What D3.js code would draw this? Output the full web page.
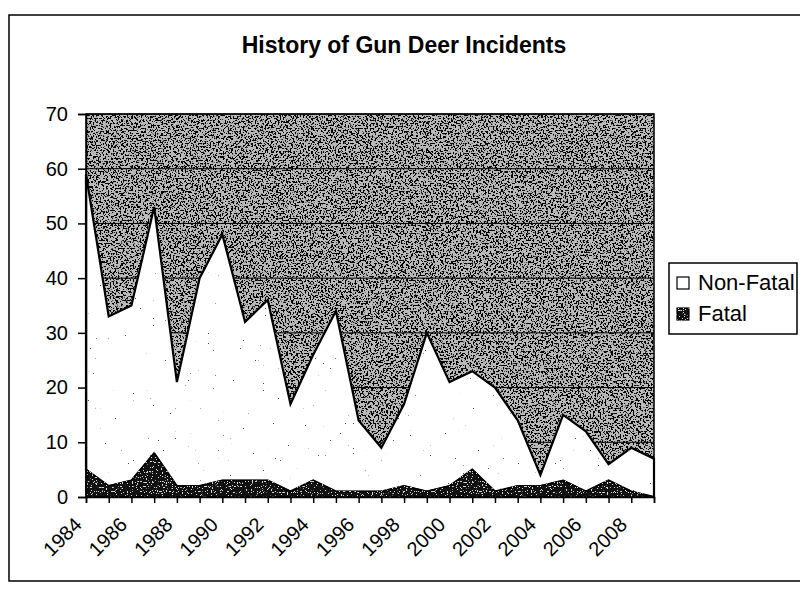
<!DOCTYPE html>
<html>
<head>
<meta charset="utf-8">
<script src="https://cdn.jsdelivr.net/npm/d3@7/dist/d3.min.js"></script>
<style>
  html, body { margin: 0; padding: 0; background: #fff; }
  svg { display: block; font-family: "Liberation Sans", Arial, sans-serif; }
</style>
</head>
<body>
<svg id="chart" width="800" height="592"></svg>
<script>
// Gun deer hunting incidents per season
const years = [1984, 1985, 1986, 1987, 1988, 1989, 1990, 1991, 1992, 1993, 1994, 1995, 1996,
               1997, 1998, 1999, 2000, 2001, 2002, 2003, 2004, 2005, 2006, 2007, 2008, 2009];
const fatal = [5, 2, 3, 8, 2, 2, 3, 3, 3, 1, 3, 1, 1,
               1, 2, 1, 2, 5, 1, 2, 2, 3, 1, 3, 1, 0];
const nonFatal = [54, 31, 32, 45, 19, 38, 45, 29, 33, 16, 23, 33, 13,
                  8, 15, 29, 19, 18, 19, 12, 2, 12, 11, 3, 8, 7];
const yearLabels = [1984, 1986, 1988, 1990, 1992, 1994, 1996, 1998, 2000, 2002, 2004, 2006, 2008];
const yTicks = [0, 10, 20, 30, 40, 50, 60, 70];
const seriesNames = ["Non-Fatal", "Fatal"];

const svg = d3.select("#chart");
const defs = svg.append("defs");

// Grainy fills: thresholded noise dots laid over a shape
function speckle(id, rgb, t, freq, seed) {
  const f = defs.append("filter").attr("id", id)
    .attr("color-interpolation-filters", "sRGB")
    .attr("x", "-5%").attr("y", "-5%").attr("width", "110%").attr("height", "110%");
  f.append("feTurbulence").attr("type", "fractalNoise").attr("baseFrequency", freq)
    .attr("numOctaves", 1).attr("seed", seed).attr("result", "noise");
  const k = 30;
  f.append("feColorMatrix").attr("in", "noise").attr("type", "matrix")
    .attr("values", `0 0 0 0 ${rgb[0]} 0 0 0 0 ${rgb[1]} 0 0 0 0 ${rgb[2]} ${k} 0 0 0 ${-k * t}`)
    .attr("result", "dots");
  f.append("feComposite").attr("in", "dots").attr("in2", "SourceAlpha")
    .attr("operator", "in").attr("result", "clipped");
  const m = f.append("feMerge");
  m.append("feMergeNode").attr("in", "SourceGraphic");
  m.append("feMergeNode").attr("in", "clipped");
}
speckle("bgGrain", [0, 0, 0], 0.53, 0.6, 7);
speckle("whiteGrain", [0.3, 0.3, 0.3], 0.76, 0.6, 11);
speckle("darkGrain", [0.85, 0.85, 0.85], 0.62, 0.8, 5);

const plot = { left: 86, right: 654, top: 114, bottom: 497 };

const x = d3.scalePoint().domain(years).range([plot.left, plot.right]);
const y = d3.scaleLinear().domain([0, 70]).range([plot.bottom, plot.top]);

// Chart frame
svg.append("rect")
  .attr("x", 9).attr("y", 15).attr("width", 820).attr("height", 566)
  .attr("fill", "none").attr("stroke", "#000").attr("stroke-width", 1.5);

// Title
svg.append("text")
  .attr("x", 404).attr("y", 53)
  .attr("text-anchor", "middle")
  .attr("font-size", 23).attr("font-weight", "bold")
  .text("History of Gun Deer Incidents");

// Plot background
svg.append("rect")
  .attr("x", plot.left).attr("y", plot.top)
  .attr("width", plot.right - plot.left).attr("height", plot.bottom - plot.top)
  .attr("fill", "#bababa").attr("filter", "url(#bgGrain)");

// Gridlines
svg.append("g").selectAll("line")
  .data(yTicks.filter(v => v > 0))
  .join("line")
  .attr("x1", plot.left).attr("x2", plot.right)
  .attr("y1", d => y(d)).attr("y2", d => y(d))
  .attr("stroke", "#000").attr("stroke-width", 1);

// Stacked areas: fatal on the bottom, non-fatal on top
const rows = years.map((yr, i) => ({ year: yr, fatal: fatal[i], nonFatal: nonFatal[i] }));
const stacked = d3.stack().keys(["fatal", "nonFatal"])(rows);
const area = d3.area()
  .x(d => x(d.data.year))
  .y0(d => y(d[0]))
  .y1(d => y(d[1]));

svg.append("path")
  .datum(stacked[1])
  .attr("d", area)
  .attr("fill", "#fff").attr("filter", "url(#whiteGrain)")
  .attr("stroke", "#000").attr("stroke-width", 2.2).attr("stroke-linejoin", "miter");

svg.append("path")
  .datum(stacked[0])
  .attr("d", area)
  .attr("fill", "#111").attr("filter", "url(#darkGrain)")
  .attr("stroke", "#000").attr("stroke-width", 1.5);

// Plot border
svg.append("rect")
  .attr("x", plot.left).attr("y", plot.top)
  .attr("width", plot.right - plot.left).attr("height", plot.bottom - plot.top)
  .attr("fill", "none").attr("stroke", "#000").attr("stroke-width", 1.5);

// Y axis
const yAxis = svg.append("g")
  .attr("transform", `translate(${plot.left},0)`)
  .call(d3.axisLeft(y).tickValues(yTicks).tickSize(8).tickPadding(10).tickFormat(d3.format("d")));
yAxis.select(".domain").attr("stroke-width", 1.5);
yAxis.selectAll("line").attr("stroke-width", 1.5);
yAxis.selectAll("text").attr("font-size", 20).attr("fill", "#000")
  .attr("font-family", "Liberation Sans, Arial, sans-serif");

// X axis: a tick per season, every other season labelled
const xAxis = svg.append("g")
  .attr("transform", `translate(0,${plot.bottom})`)
  .call(d3.axisBottom(x).tickSize(6).tickFormat(""));
xAxis.select(".domain").attr("stroke-width", 1.5);
xAxis.selectAll("line").attr("stroke-width", 1.5);

svg.append("g").selectAll("text")
  .data(yearLabels)
  .join("text")
  .attr("transform", d => `translate(${x(d) - 3},${plot.bottom + 29}) rotate(-45)`)
  .attr("text-anchor", "end")
  .attr("font-size", 20)
  .text(d => d);

// Legend
const legend = svg.append("g").attr("transform", "translate(669,263)");
legend.append("rect")
  .attr("width", 128).attr("height", 71)
  .attr("fill", "#fff").attr("stroke", "#000").attr("stroke-width", 1.5);
const items = legend.selectAll("g.item")
  .data(seriesNames)
  .join("g").attr("class", "item")
  .attr("transform", (d, i) => `translate(8,${14 + i * 31})`);
items.append("rect")
  .attr("width", 12).attr("height", 12)
  .attr("fill", (d, i) => i === 0 ? "#fff" : "#111")
  .attr("filter", (d, i) => i === 0 ? null : "url(#darkGrain)")
  .attr("stroke", "#000").attr("stroke-width", 1.2);
items.append("text")
  .attr("x", 21).attr("y", 13)
  .attr("font-size", 22)
  .text(d => d);
</script>
</body>
</html>
